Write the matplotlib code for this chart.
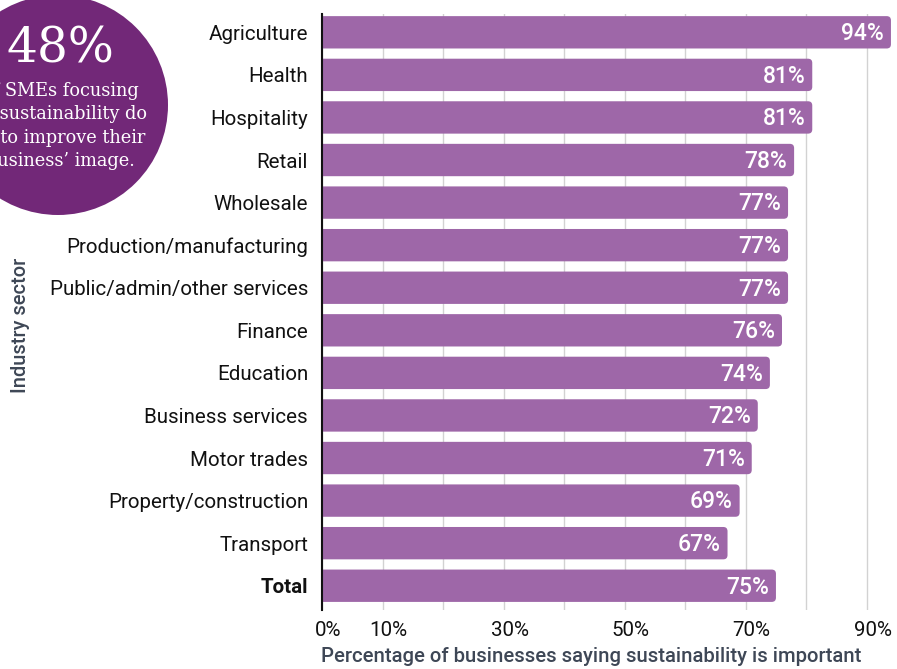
import matplotlib
matplotlib.use("Agg")
import matplotlib.pyplot as plt
from matplotlib.patches import FancyBboxPatch, Circle
import matplotlib.transforms as mtransforms

plt.rcParams['font.family'] = ['Roboto', 'DejaVu Sans']

# sector data, top to bottom
sectors = ["Agriculture", "Health", "Hospitality", "Retail", "Wholesale",
           "Production/manufacturing", "Public/admin/other services",
           "Finance", "Education", "Business services", "Motor trades",
           "Property/construction", "Transport", "Total"]
values = [94, 81, 81, 78, 77, 77, 77, 76, 74, 72, 71, 69, 67, 75]
xticks = [0, 10, 20, 30, 40, 50, 60, 70, 80, 90]
xtick_labels = ["0%", "10%", "", "30%", "", "50%", "", "70%", "", "90%"]

callout_big = "48%"
callout_text = "of SMEs focusing\non sustainability do\nso to improve their\nbusiness\u2019 image."

bar_color = "#9e67a8"
circle_color = "#722878"
title_color = "#3e4756"

W, H = 897, 669
fig = plt.figure(figsize=(W / 100, H / 100), dpi=100)
ax = fig.add_axes([322 / W, 1 - 610 / H, (W - 322) / W, 596 / H])

xmax = 95
ax.set_xlim(0, xmax)
ax.set_ylim(13.57, -0.43)

# rounded bars: start left of zero so only the right corners show rounding
px_x = 575 / xmax
px_y = 596 / 14.0
bar_h = 0.76
for i, v in enumerate(values):
    box = FancyBboxPatch((-2, i - bar_h / 2), v + 2, bar_h,
                         boxstyle="round,pad=0,rounding_size=0.7",
                         mutation_aspect=px_x / px_y,
                         facecolor=bar_color, edgecolor="none", zorder=3)
    ax.add_patch(box)
    ax.text(v - 7 / px_x, i + 0.03, f"{v}%", ha="right", va="center",
            color="white", fontsize=16.5, fontweight="medium", zorder=4)

ax.set_yticks(range(len(sectors)))
ax.set_yticklabels(sectors, fontsize=14.8, color="#111111")
ax.get_yticklabels()[-1].set_fontweight("bold")
ax.tick_params(axis="y", length=0, pad=10)

ax.set_xticks(xticks)
ax.set_xticklabels(xtick_labels, fontsize=14.8, color="#111111")
ax.tick_params(axis="x", length=0, pad=8)
shift = mtransforms.ScaledTranslation(6 / 100, 0, fig.dpi_scale_trans)
for lbl in ax.get_xticklabels():
    lbl.set_transform(lbl.get_transform() + shift)

ax.grid(axis="x", color="#d2d2d2", linewidth=1, zorder=0)
ax.set_axisbelow(True)
for side in ["top", "right", "bottom"]:
    ax.spines[side].set_visible(False)
ax.spines["left"].set_color("#111111")
ax.spines["left"].set_linewidth(1.5)
ax.spines["left"].set_zorder(5)

fig.text(591 / W, 1 - 657 / H,
         "Percentage of businesses saying sustainability is important",
         ha="center", va="center", fontsize=14.6, fontweight="medium",
         color=title_color)
fig.text(20 / W, 1 - 325 / H, "Industry sector", rotation=90,
         ha="center", va="center", fontsize=14.5, fontweight="medium",
         color=title_color)

# callout bubble in pixel coordinates
ov = fig.add_axes([0, 0, 1, 1], zorder=10)
ov.set_xlim(0, W)
ov.set_ylim(H, 0)
ov.axis("off")
ov.patch.set_alpha(0)
ov.add_patch(Circle((58, 105), 110, facecolor=circle_color, edgecolor="none"))
ov.text(60, 49, callout_big, ha="center", va="center", color="white",
        fontsize=35, family="DejaVu Serif")
ov.text(60, 126, callout_text, ha="center", va="center", color="white",
        fontsize=12.8, family="DejaVu Serif", linespacing=1.38)

fig.savefig("out.png", dpi=100)
